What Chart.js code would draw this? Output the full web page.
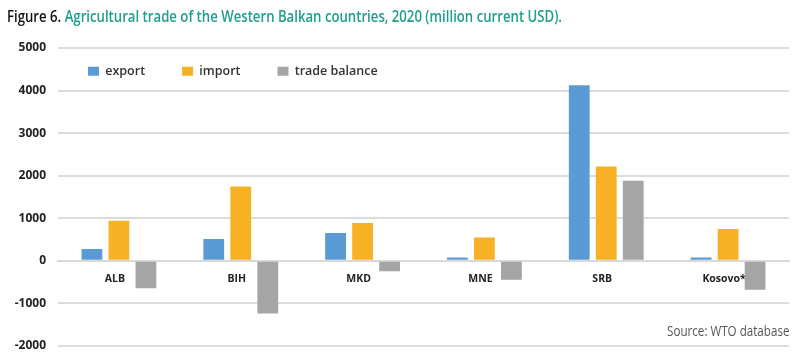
<!DOCTYPE html>
<html>
<head>
<meta charset="utf-8">
<script src="https://cdn.jsdelivr.net/npm/chart.js@4.4.1/dist/chart.umd.min.js"></script>
<style>
  html, body { margin: 0; padding: 0; background: #ffffff; }
  #wrap { position: relative; width: 800px; height: 357px; overflow: hidden; }
  #title { position: absolute; left: 7px; top: 5px; font-family: "Open Sans", sans-serif; font-weight: 600; font-size: 15.5px; color: #1e9e8c; white-space: nowrap; transform: scaleX(0.85); transform-origin: left top; }
  #title .fig { color: #111111; }
  #source { position: absolute; right: 11px; top: 321px; font-family: "Open Sans", sans-serif; font-size: 14px; color: #555555; white-space: nowrap; transform: scaleX(0.83); transform-origin: right top; }
  canvas { position: absolute; left: 0; top: 0; }
</style>
</head>
<body>
<div id="wrap">
  <canvas id="c" width="800" height="365"></canvas>
  <div id="title"><span class="fig">Figure 6.</span> Agricultural trade of the Western Balkan countries, 2020 (million current USD).</div>
  <div id="source">Source: WTO database</div>
</div>
<script>
const categories = ['ALB', 'BIH', 'MKD', 'MNE', 'SRB', 'Kosovo*'];
const exportValues = [275, 510, 650, 78, 4125, 78];
const importValues = [940, 1745, 885, 547, 2215, 745];
const balanceValues = [-650, -1240, -245, -450, 1880, -680];
const seriesNames = ['export', 'import', 'trade balance'];
const yTicks = [-2000, -1000, 0, 1000, 2000, 3000, 4000, 5000];

const legendInside = {
  id: 'legendInside',
  beforeLayout(chart) {
    const lg = chart.legend;
    if (lg && !lg._patched) {
      const origFit = lg.fit.bind(lg);
      lg.fit = function () { origFit(); this._realHeight = this.height; this.height = 0; };
      lg._patched = true;
    }
  },
  afterLayout(chart) {
    const lg = chart.legend;
    if (!lg) return;
    const pad = lg.options.labels.padding;
    lg.left = 88 - pad;
    lg.right = lg.left + lg.width;
    lg.top = 65 - pad;
    lg.bottom = lg.top + (lg._realHeight || 30) + pad;
  }
};

new Chart(document.getElementById('c'), {
  type: 'bar',
  data: {
    labels: categories,
    datasets: [
      { label: seriesNames[0], data: exportValues, backgroundColor: '#5B9BD5' },
      { label: seriesNames[1], data: importValues, backgroundColor: '#F7B124' },
      { label: seriesNames[2], data: balanceValues, backgroundColor: '#A5A5A5' }
    ]
  },
  options: {
    responsive: false,
    animation: false,
    devicePixelRatio: 1,
    layout: { padding: { left: 0, right: 11, top: 48, bottom: 11 } },
    datasets: { bar: { categoryPercentage: 0.665, barPercentage: 0.77 } },
    plugins: {
      title: { display: false },
      tooltip: { enabled: false },
      legend: {
        display: true,
        position: 'top',
        align: 'start',
        labels: {
          boxWidth: 11,
          boxHeight: 9,
          padding: 37,
          color: '#333333',
          font: { family: 'Open Sans', size: 12.5, weight: '600' }
        }
      }
    },
    scales: {
      x: {
        position: { y: 0 },
        afterFit(scale) { scale.height = 0; },
        grid: { display: false, drawTicks: false },
        border: { display: true, color: '#d9d9d9', width: 2 },
        ticks: {
          padding: 12,
          labelOffset: -4,
          color: '#222222',
          font: { family: 'Open Sans', size: 10.5, weight: 'bold' }
        }
      },
      y: {
        min: -2000,
        max: 5000,
        afterFit(scale) { scale.width = 58; },
        afterBuildTicks(scale) { scale.ticks = yTicks.map(v => ({ value: v })); },
        grid: { color: '#dcdcdc', lineWidth: 2, drawTicks: false },
        border: { display: false },
        ticks: {
          padding: 12,
          color: '#222222',
          font: { family: 'Open Sans', size: 12, weight: 'bold' },
          callback: (v) => String(v)
        }
      }
    }
  },
  plugins: [legendInside]
});
</script>
</body>
</html>
